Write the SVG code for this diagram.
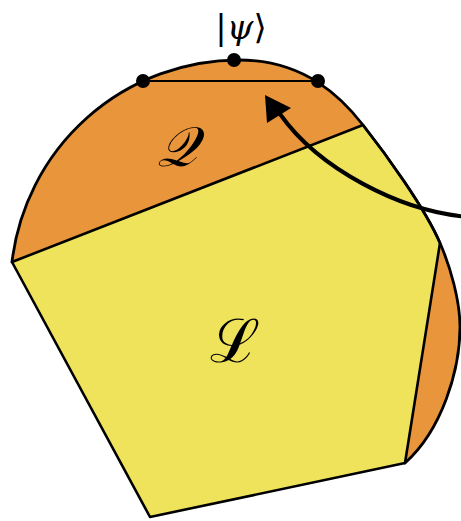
<svg xmlns="http://www.w3.org/2000/svg" width="461" height="521" viewBox="0 0 461 521">
<style>
.ln{fill:none;stroke:#000;stroke-linejoin:round;stroke-linecap:round}
.dot{fill:#000}
.lbl{font-family:"DejaVu Serif","Liberation Serif",serif;fill:#000}
</style>
<rect width="461" height="521" fill="#fff"/>
<g id="Q">
<path d="M12,262 A228.5,228.5 0 0 1 239,60 C305,60 342,98 363,125 C385,153 425,208 440,243 C450,266 460,300 460,327 C460,370 442,430 405,463 Z" fill="#E9953B"/>
<text class="lbl" x="177" y="166" font-size="56" text-anchor="middle" font-style="italic">𝒬</text>
</g>
<g id="L">
<path d="M12,262 L363,125 C385,153 425,208 440,243 L405,463 L150,517 Z" fill="#F0E35C" stroke="#000" stroke-width="2.6" stroke-linejoin="round"/>
<text class="lbl" x="235" y="362" font-size="60" text-anchor="middle">ℒ</text>
</g>
<g id="boundary">
<path class="ln" stroke-width="2.8" d="M12,262 A228.5,228.5 0 0 1 239,60 C305,60 342,98 363,125 C385,153 425,208 440,243 C450,266 460,300 460,327 C460,370 442,430 405,463"/>
</g>
<g id="psi">
<line class="ln" x1="143" y1="81" x2="318" y2="81" stroke-width="2.2"/>
<circle class="dot" cx="143" cy="81" r="7"/>
<circle class="dot" cx="234" cy="60" r="7"/>
<circle class="dot" cx="318" cy="81" r="7"/>
<text class="lbl" x="241" y="39" font-size="34" text-anchor="middle">|<tspan font-style="italic">ψ</tspan>⟩</text>
</g>
<g id="connectors">
<path class="ln" stroke-width="4" d="M470,217 C400,212 318,168 280,114"/>
<polygon points="265,95 267,123 291,108" fill="#000"/>
</g>
</svg>
